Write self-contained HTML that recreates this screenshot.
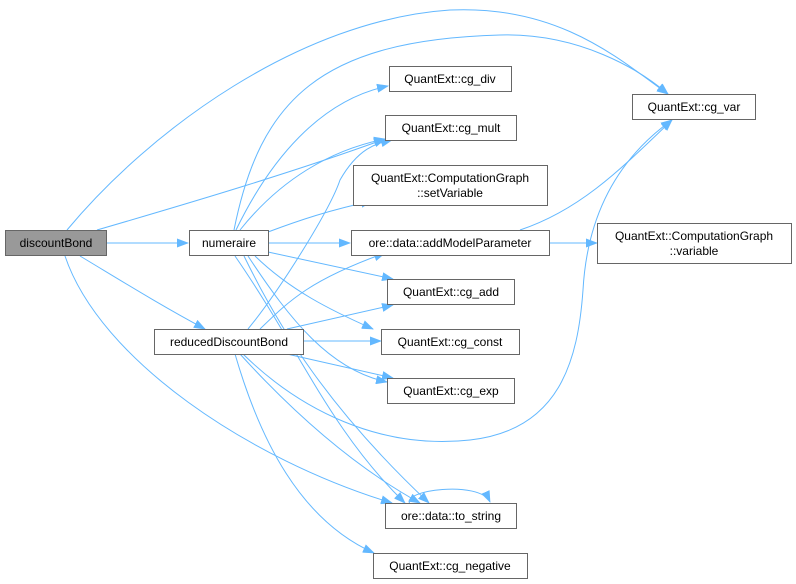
<!DOCTYPE html>
<html><head><style>
body{margin:0;background:#fff}
svg{display:block}
text{font-family:"Liberation Sans",sans-serif;font-size:12px;fill:#000}
.n{fill:#fff;stroke:#666;stroke-width:1}
.e{fill:none;stroke:#63b8ff;stroke-width:1}
</style></head><body>
<svg width="796" height="584" viewBox="0 0 796 584">
<defs><marker id="a" markerWidth="12" markerHeight="9" refX="11" refY="4.5" orient="auto" markerUnits="userSpaceOnUse"><path d="M0,0L12,4.5L0,9z" fill="#63b8ff"/></marker></defs>
<g class="e" marker-end="url(#a)">
<path d="M67,230C150,130 300,20 450,10C560,5 620,60 668,94"/>
<path d="M97,230C200,200 300,170 385,139"/>
<path d="M106,243L188,243"/>
<path d="M80,256C120,280 160,305 205,329"/>
<path d="M65,256C100,360 250,460 392,503"/>
<path d="M234,230C260,100 320,40 500,35C580,33 640,70 668,94"/>
<path d="M236,230C270,160 320,100 388,86"/>
<path d="M240,230C280,180 330,150 385,139"/>
<path d="M268,232C300,220 330,210 372,201"/>
<path d="M268,243L350,243"/>
<path d="M268,252L393,279"/>
<path d="M255,256C290,290 330,310 373,329"/>
<path d="M248,256C290,320 330,370 387,382"/>
<path d="M244,256C280,330 330,410 429,503"/>
<path d="M520,230C580,210 620,170 672,120"/>
<path d="M549,243L597,243"/>
<path d="M248,329C280,290 330,210 340,180C360,145 380,143 392,140"/>
<path d="M260,329C290,300 310,280 385,253"/>
<path d="M287,329L393,305"/>
<path d="M303,341L381,341"/>
<path d="M287,354L393,378"/>
<path d="M240,354C300,420 360,470 420,503"/>
<path d="M243,354C300,410 380,450 470,440C560,430 578,360 583,290C588,200 630,150 672,120"/>
<path d="M235,354C260,440 300,520 374,553"/>
<path d="M235,256C300,350 330,430 405,503"/>
<path d="M410,504C400,490 480,480 490,502"/>
</g>
<rect x="5.5" y="230.5" width="101" height="25" fill="#999" stroke="#666"/>
<text x="56" y="247" text-anchor="middle">discountBond</text>
<rect class="n" x="189.5" y="230.5" width="79" height="25"/><text x="229" y="247" text-anchor="middle">numeraire</text>
<rect class="n" x="154.5" y="329.5" width="149" height="25"/><text x="229" y="346" text-anchor="middle">reducedDiscountBond</text>
<rect class="n" x="389.5" y="66.5" width="122" height="25"/><text x="450" y="83" text-anchor="middle">QuantExt::cg_div</text>
<rect class="n" x="385.5" y="115.5" width="131" height="25"/><text x="451" y="132" text-anchor="middle">QuantExt::cg_mult</text>
<rect class="n" x="353.5" y="165.5" width="194" height="40"/><text x="450" y="182" text-anchor="middle">QuantExt::ComputationGraph</text><text x="450" y="197" text-anchor="middle">::setVariable</text>
<rect class="n" x="351.5" y="230.5" width="198" height="25"/><text x="450" y="247" text-anchor="middle">ore::data::addModelParameter</text>
<rect class="n" x="387.5" y="279.5" width="127" height="25"/><text x="451" y="296" text-anchor="middle">QuantExt::cg_add</text>
<rect class="n" x="381.5" y="329.5" width="138" height="25"/><text x="450" y="346" text-anchor="middle">QuantExt::cg_const</text>
<rect class="n" x="387.5" y="378.5" width="127" height="25"/><text x="451" y="395" text-anchor="middle">QuantExt::cg_exp</text>
<rect class="n" x="385.5" y="503.5" width="131" height="25"/><text x="451" y="520" text-anchor="middle">ore::data::to_string</text>
<rect class="n" x="373.5" y="553.5" width="154" height="25"/><text x="450" y="570" text-anchor="middle">QuantExt::cg_negative</text>
<rect class="n" x="632.5" y="94.5" width="123" height="25"/><text x="694" y="111" text-anchor="middle">QuantExt::cg_var</text>
<rect class="n" x="597.5" y="223.5" width="194" height="40"/><text x="694" y="240" text-anchor="middle">QuantExt::ComputationGraph</text><text x="694" y="255" text-anchor="middle">::variable</text>
</svg>
</body></html>
